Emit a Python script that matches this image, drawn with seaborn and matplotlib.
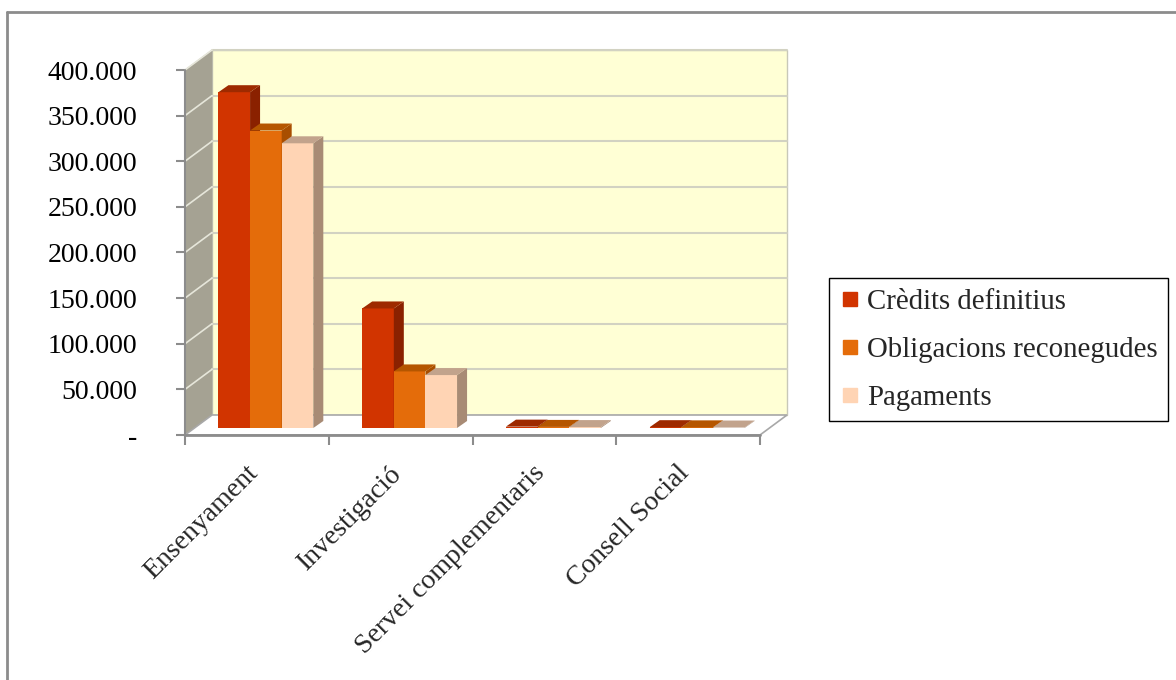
import numpy as np
import pandas as pd
import matplotlib
matplotlib.use('Agg')
import matplotlib.pyplot as plt
import matplotlib.transforms as mtransforms
from matplotlib.patches import Polygon, Rectangle
from matplotlib.lines import Line2D
import seaborn as sns

# data (thousands of euros)
categories = ['Ensenyament', 'Investigació', 'Servei complementaris', 'Consell Social']
series = ['Crèdits definitius', 'Obligacions reconegudes', 'Pagaments']
credits = [368000, 131000, 1500, 900]
obligacions = [326000, 62000, 1200, 700]
pagaments = [312000, 58000, 1000, 500]
yticks = [0, 50000, 100000, 150000, 200000, 250000, 300000, 350000, 400000]

front_colors = ['#D13400', '#E46C0A', '#FFD4B4']
side_colors = ['#8A2100', '#A84E00', '#A88B75']
top_colors = ['#9E2A00', '#B55600', '#C2A38C']

df = pd.DataFrame({
    'categoria': categories * 3,
    'serie': [s for s in series for _ in categories],
    'valor': credits + obligacions + pagaments,
})

sns.set_style('white')
plt.rcParams['font.family'] = ['Liberation Serif', 'DejaVu Serif']

W, H = 1176, 680
fig = plt.figure(figsize=(W / 100, H / 100), dpi=100)
ax = fig.add_axes([185 / W, 245 / H, 575 / W, 365 / H])

sns.barplot(data=df, x='categoria', y='valor', hue='serie', palette=front_colors,
            width=0.66, gap=0, saturation=1, linewidth=0, legend=False, ax=ax)

ax.set_xlim(-0.5, 3.5)
ax.set_ylim(0, 400000)
ax.set_facecolor('none')
for s in ax.spines.values():
    s.set_visible(False)
ax.set_xlabel('')
ax.set_ylabel('')

# pixel -> data conversion
px_x = 4 / 575
px_y = 400000 / 365
dx, dy = 27 / 575, 20 / 365  # depth of the box in axes units

# walls and floor
ax.add_patch(Rectangle((dx, dy), 1, 1, transform=ax.transAxes, fc='#FFFFD5',
                       ec='#C8C8B8', lw=1, clip_on=False, zorder=0))
ax.add_patch(Polygon([(0, 0), (dx, dy), (dx, 1 + dy), (0, 1)], transform=ax.transAxes,
                     fc='#A5A293', ec='#A5A293', lw=0.5, clip_on=False, zorder=0))
ax.add_patch(Polygon([(0, 0), (1, 0), (1 + dx, dy), (dx, dy)], transform=ax.transAxes,
                     fc='white', ec='#A8A8A8', lw=1.2, clip_on=False, zorder=0.5))
for v in yticks[1:]:
    f = v / 400000
    ax.plot([dx, 1 + dx], [dy + f, dy + f], transform=ax.transAxes, color='#D2D2C2',
            lw=1.5, clip_on=False, zorder=1)
    ax.plot([0, dx], [f, dy + f], transform=ax.transAxes, color='#E6E6DA',
            lw=1.2, clip_on=False, zorder=1)

# 3d look for the bars
ox, oy = 9 * px_x, 7 * px_y
ddx, ddy = 10 * px_x, 7 * px_y
for i, cont in enumerate(ax.containers):
    for bar in cont:
        bar.set_x(bar.get_x() + ox)
        bar.set_y(bar.get_y() + oy)
        bar.set_zorder(3 + i)
        x0 = bar.get_x()
        x1 = x0 + bar.get_width()
        y0 = bar.get_y()
        y1 = y0 + bar.get_height()
        ax.add_patch(Polygon([(x1, y0), (x1 + ddx, y0 + ddy), (x1 + ddx, y1 + ddy), (x1, y1)],
                             fc=side_colors[i], ec='none', zorder=3 + i))
        ax.add_patch(Polygon([(x0, y1), (x1, y1), (x1 + ddx, y1 + ddy), (x0 + ddx, y1 + ddy)],
                             fc=top_colors[i], ec='none', zorder=3 + i))

# axis lines
ax.plot([0, 1], [0, 0], transform=ax.transAxes, color='#8C8C8C', lw=2, clip_on=False, zorder=6)
ax.plot([0, 0], [0, 1], transform=ax.transAxes, color='#8C8C8C', lw=1.5, clip_on=False, zorder=6)

ax.set_yticks(yticks)
ax.set_yticklabels(['-' if v == 0 else f'{v:,}'.replace(',', '.') for v in yticks])
ax.tick_params(axis='y', left=True, length=6.5, width=1.5, color='#8C8C8C', pad=28,
               labelsize=20, labelcolor='black')

ax.set_xticks(range(len(categories)))
ax.set_xticks(np.arange(-0.5, 4, 1), minor=True)
ax.tick_params(axis='x', which='major', length=0, pad=25, labelsize=20)
ax.tick_params(axis='x', which='minor', bottom=True, length=7, width=1.5, color='#8C8C8C')
shift = mtransforms.ScaledTranslation(-0.03, 0, fig.dpi_scale_trans)
for lab in ax.get_xticklabels():
    lab.set_rotation(45)
    lab.set_ha('right')
    lab.set_va('center')
    lab.set_rotation_mode('anchor')
    lab.set_transform(lab.get_transform() + shift)

handles = [Line2D([], [], marker='s', ls='none', color=c, markersize=9.5) for c in front_colors]
leg = fig.legend(handles, series, loc='upper left', bbox_to_anchor=(829 / W, 1 - 278 / H),
                 fontsize=20.8, frameon=True, fancybox=False, edgecolor='black', framealpha=1,
                 borderpad=0.36, labelspacing=0.76, handlelength=0.7, handletextpad=0.25,
                 borderaxespad=0)
leg.get_frame().set_linewidth(1.0)

# outer frame of the chart area
fig.add_artist(Line2D([7 / W, 7 / W], [0, 1 - 12 / H], transform=fig.transFigure,
                      color='#8C8C8C', lw=2))
fig.add_artist(Line2D([7 / W, 1], [1 - 12 / H, 1 - 12 / H], transform=fig.transFigure,
                      color='#8C8C8C', lw=2))

fig.savefig('out.png', dpi=100)
